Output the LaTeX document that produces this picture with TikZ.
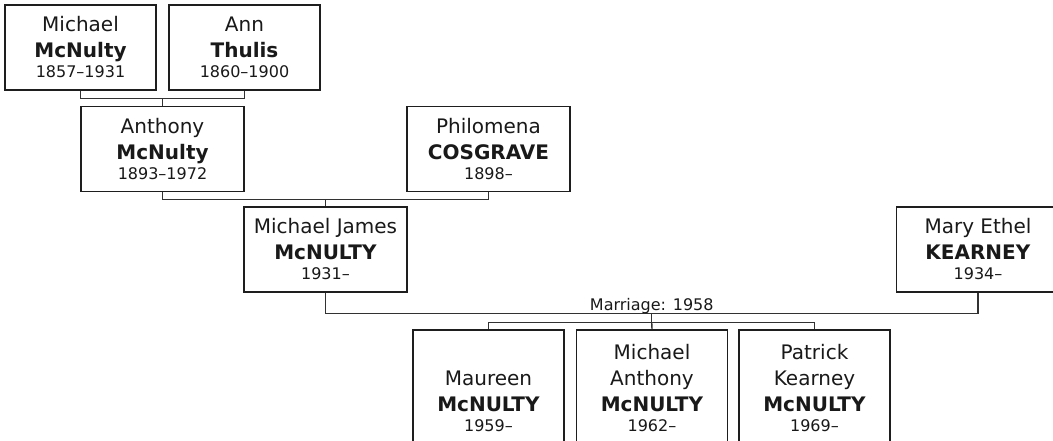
\documentclass[tikz,border=0pt]{standalone}
\usepackage{fontspec}
\setmainfont{DejaVu Sans}
\usepackage{xcolor}
\usepackage{tikz}
\usetikzlibrary{positioning, calc}
\definecolor{boxline}{RGB}{30,30,30}
\definecolor{linkgray}{RGB}{50,50,50}
\newcommand{\yearfont}{\fontsize{16}{19}\selectfont}
\newcommand{\person}[3]{#1\\\textbf{#2}\\[-6pt]{\yearfont #3}}

\begin{document}
\begin{tikzpicture}[x=1pt, y=-1pt,
    pers/.style={rectangle, draw=boxline, line width=1.5pt, fill=white, align=center, font=\fontsize{20}{26}\selectfont, text=black!90, inner sep=0pt, minimum height=85pt},
    elder/.style={pers, minimum width=151pt, execute at begin node={\rule{0pt}{20pt}}},
    wide/.style={pers, minimum width=163pt, execute at begin node={\rule{0pt}{20pt}}},
    kid/.style={pers, minimum width=151pt, minimum height=116pt, anchor=north},
    link/.style={draw=linkgray, line width=1.4pt},
    note/.style={font=\yearfont, text=black!90, inner sep=0pt}
]
\useasboundingbox (0,0) rectangle (1053,440);
\clip (0,0) rectangle (1053,440);

\node[elder] (mmc) at (80.5,47.5) {\person{Michael}{McNulty}{1857--1931}};
\node[elder] (ann) at (244.5,47.5) {\person{Ann}{Thulis}{1860--1900}};
\node[wide] (anthony) at (162.5,149) {\person{Anthony}{McNulty}{1893--1972}};
\node[wide] (philomena) at (488.5,149) {\person{Philomena}{COSGRAVE}{1898--}};
\node[wide] (mjames) at (325.5,249.5) {\person{Michael James}{McNULTY}{1931--}};
\node[wide] (mary) at (978,249.5) {\person{Mary Ethel}{KEARNEY}{1934--}};
\node[kid] (maureen) at (488.5,329) {\vphantom{h}\\\person{Maureen}{McNULTY}{1959--}};
\node[kid] (manthony) at (652,329) {Michael\\\person{Anthony}{McNULTY}{1962--}};
\node[kid] (patrick) at (814.5,329) {Patrick\\\person{Kearney}{McNULTY}{1969--}};

\coordinate (u1) at ($(mmc.south)!0.5!(ann.south)+(0,8)$);
\coordinate (u2) at ($(anthony.south)!0.5!(philomena.south)+(0,7)$);
\coordinate (u3) at ($(mjames.south)!0.5!(mary.south)+(0,21)$);
\coordinate (u4) at ($(u3)+(0,9)$);

\draw[link] (mmc.south) |- (u1) -| (ann.south);
\draw[link] (u1) -- (anthony.north);
\draw[link] (anthony.south) |- (u2) -| (philomena.south);
\draw[link] (u2) -- (mjames.north);
\draw[link] (mjames.south) |- (u3) -| (mary.south);
\node[note, anchor=base] (wed) at ($(u3)+(0,-3)$) {Marriage: 1958};
\draw[link] (u3) -- (u4);
\draw[link] (maureen.north) |- (u4) -| (patrick.north);
\draw[link] (u4) -- (manthony.north);
\end{tikzpicture}
\end{document}
